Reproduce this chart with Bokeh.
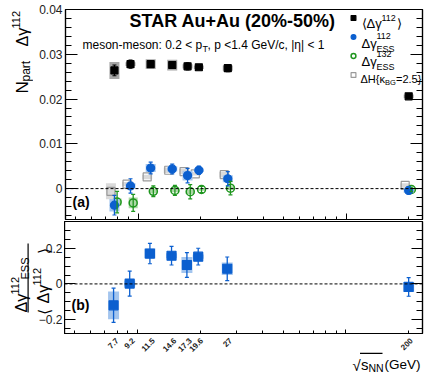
import math
from bokeh.plotting import figure
from bokeh.layouts import column, row
from bokeh.models import (Range1d, FixedTicker, LinearAxis, Span, Whisker, TeeHead,
                          ColumnDataSource, Label, Legend, LegendItem, BoxAnnotation)
from bokeh.embed import file_html
from bokeh.resources import INLINE

# ---------------- data ----------------
energies = [7.7, 9.2, 11.5, 14.6, 17.3, 19.6, 27, 200]
energy_labels = ["7.7", "9.2", "11.5", "14.6", "17.3", "19.6", "27", "200"]

# N_part * <Δγ112>
incl = [0.0264, 0.0278, 0.0278, 0.0276, 0.0273, 0.0271, 0.0269, 0.0206]
incl_stat = [0.0012, 0.0009, 0.0006, 0.0006, 0.0008, 0.0005, 0.0008, 0.0003]
incl_sys = [0.0019, 0.0004, 0.0011, 0.0012, 0.0005, 0.0004, 0.0006, 0.0004]

# N_part * Δγ112_ESS
g112 = [-0.0037, 0.0006, 0.0046, 0.0044, 0.0029, 0.0041, 0.0022, -0.0004]
g112_stat = [0.0022, 0.0016, 0.0013, 0.0011, 0.0016, 0.0009, 0.0016, 0.0008]
g112_sys = [0.0014, 0.0006, 0.0009, 0.0006, 0.0011, 0.0004, 0.0008, 0.0005]

# N_part * Δγ132_ESS
g132 = [-0.0030, -0.0032, -0.0006, -0.0004, -0.0007, -0.0002, 0.0001, -0.0002]
g132_stat = [0.0024, 0.0019, 0.0012, 0.0011, 0.0016, 0.0007, 0.0015, 0.0005]
g132_sys = [0.0008, 0.0012, 0.0005, 0.0004, 0.0005, 0.0003, 0.0004, 0.0003]

# N_part * ΔH{κ_BG=2.5}
dH = [-0.0006, 0.0010, 0.0026, 0.0041, 0.0038, 0.0033, 0.0031, 0.0007]
dH_sys = [0.0018, 0.0005, 0.0005, 0.0006, 0.0006, 0.0004, 0.0006, 0.0005]

# Δγ112_ESS / <Δγ112>
ratio = [-0.12, 0.002, 0.17, 0.158, 0.106, 0.153, 0.085, -0.017]
ratio_stat = [0.096, 0.070, 0.057, 0.052, 0.069, 0.047, 0.066, 0.052]
ratio_sys = [0.078, 0.017, 0.028, 0.014, 0.045, 0.012, 0.035, 0.028]

top_yticks = [0, 0.01, 0.02, 0.03, 0.04]
top_ylabels = ["0", "0.01", "0.02", "0.03", "0.04"]
bot_yticks = [-0.2, 0, 0.2]
bot_ylabels = ["\u22120.2", "0", "0.2"]

# ---------------- style ----------------
FONT = "Liberation Sans"
BLACK = "#000000"; BLACK_BOX = "#a6a6a6"
BLUE = "#0b5fcf"; BLUE_BOX = "#a3c5ee"
GREEN = "#1e961e"; GREEN_BOX = "#acd9a6"
GRAY = "#9a9a9a"; GRAY_BOX = "#dadada"
SHIFT_GRAY = 0.962
SHIFT_GREEN = 1.03
MINOR_X = [5, 6, 7, 8, 9, 20, 30, 40, 50, 60, 70, 80, 90, 200]
R = math.pi / 2

xr = Range1d(4.48, 233.0)
yr_top = Range1d(-0.0069, 0.04)
yr_bot = Range1d(-0.278, 0.35)


def blank(p):
    p.xgrid.visible = False
    p.ygrid.visible = False
    p.outline_line_color = None
    p.background_fill_color = "white"
    p.border_fill_color = "white"


def base_style(p):
    p.xgrid.visible = False
    p.ygrid.visible = False
    p.outline_line_color = "black"
    p.outline_line_width = 1.2
    p.background_fill_color = "white"
    p.border_fill_color = "white"


def hide_labels(ax):
    ax.major_label_text_font_size = "1px"
    ax.major_label_text_alpha = 0
    ax.major_label_standoff = 0


def y_axis(ax, ticks, minors, labels, show, major=12, minor=6):
    ax.ticker = FixedTicker(ticks=ticks, minor_ticks=minors)
    ax.major_tick_in = major
    ax.major_tick_out = 0
    ax.minor_tick_in = minor
    ax.minor_tick_out = 0
    ax.axis_line_color = "black"
    ax.axis_line_width = 1.2
    if show:
        ax.major_label_overrides = dict(zip(ticks, labels))
        ax.major_label_text_font = FONT
        ax.major_label_text_font_size = "12px"
        ax.major_label_text_color = "#222222"
        ax.major_label_standoff = 3
    else:
        hide_labels(ax)


def x_tick_axis(ax, major, minor):
    ax.ticker = FixedTicker(ticks=[10, 100], minor_ticks=MINOR_X)
    ax.major_tick_in = major
    ax.major_tick_out = 0
    ax.minor_tick_in = minor
    ax.minor_tick_out = 0
    ax.axis_line_color = "black"
    ax.axis_line_width = 1.2
    hide_labels(ax)


def txt(p, x0, y0, px, py, text, size, bold=False, angle=0.0, align="left",
        baseline="alphabetic", color="black"):
    """Place text at page position (px, py); (x0, y0) = page position of p's frame bottom-left."""
    p.add_layout(Label(x=px - x0, y=y0 - py, x_units="screen", y_units="screen",
                       text=text, text_font=FONT, text_font_size=f"{size}px",
                       text_font_style="bold" if bold else "normal",
                       text_color=color, angle=angle, text_align=align,
                       text_baseline=baseline))


def series(p, xs, ys, stat, sys, color, box_color, marker, size, fill, lw=1.2, box_w=10):
    src = ColumnDataSource(dict(
        x=xs, y=ys, h=[2 * s for s in sys],
        lo=[y - e for y, e in zip(ys, stat)] if stat else ys,
        up=[y + e for y, e in zip(ys, stat)] if stat else ys))
    p.rect(x="x", y="y", width=box_w, width_units="screen", height="h", source=src,
           fill_color=box_color, line_color=None)
    if stat:
        p.add_layout(Whisker(source=src, base="x", upper="up", lower="lo", dimension="height",
                             line_color=color, line_width=1.3, level="glyph",
                             upper_head=TeeHead(size=4, line_color=color, line_width=1.2),
                             lower_head=TeeHead(size=4, line_color=color, line_width=1.2)))
    return p.scatter(x="x", y="y", source=src, marker=marker, size=size,
                     fill_color=fill, line_color=color, line_width=lw)


# ================= top row (page y 0..221, frames 9..219) =================
LTW = 33
lt = figure(width=LTW, height=221, x_range=Range1d(0, 1), y_range=Range1d(0, 1),
            x_axis_location=None, y_axis_location=None, output_backend="svg",
            toolbar_location=None, min_border_left=0, min_border_right=0,
            min_border_top=9, min_border_bottom=2)
blank(lt)
LTY = 219
txt(lt, 0, LTY, 22, 93, "N", 17, angle=R)
txt(lt, 0, LTY, 25, 81, "part", 12, angle=R)
txt(lt, 0, LTY, 21.5, 46, "\u0394\u03b3", 16, angle=R)
txt(lt, 0, LTY, 15.5, 28, "112", 11, angle=R)

top = figure(width=429 - LTW, height=221, x_axis_type="log", x_range=xr, y_range=yr_top,
             output_backend="svg", toolbar_location=None,
             min_border_left=65 - LTW, min_border_right=7, min_border_top=9, min_border_bottom=2)
base_style(top)
top_minor = [round(-0.006 + 0.002 * i, 4) for i in range(24) if i % 5 != 3]
y_axis(top.yaxis[0], top_yticks, top_minor, top_ylabels, True)
ra = LinearAxis()
top.add_layout(ra, "right")
y_axis(ra, top_yticks, top_minor, top_ylabels, False)
x_tick_axis(top.xaxis[0], 6, 3)
top.add_layout(Span(location=0, dimension="width", line_color="black", line_width=1, line_dash="3 2"))

e_gray = [e * SHIFT_GRAY for e in energies]
e_green = [e * SHIFT_GREEN for e in energies]

r_incl = series(top, energies, incl, incl_stat, incl_sys, BLACK, BLACK_BOX, "square", 7, BLACK, box_w=10)
r_dh = series(top, e_gray, dH, None, dH_sys, GRAY, GRAY_BOX, "square", 8, None, lw=1.2)
r_132 = series(top, e_green, g132, g132_stat, g132_sys, GREEN, GREEN_BOX, "circle", 8, None, lw=1.5, box_w=9)
r_112 = series(top, energies, g112, g112_stat, g112_sys, BLUE, BLUE_BOX, "circle", 8, BLUE)

legend = Legend(items=[LegendItem(label="\u00a0", renderers=[r]) for r in (r_incl, r_112, r_132, r_dh)],
                location=(282, 135), orientation="vertical")
legend.glyph_width = 12
legend.glyph_height = 19
legend.label_height = 19
legend.label_width = 1
legend.label_standoff = 0
legend.label_text_font_size = "4px"
legend.spacing = 0
legend.padding = 0
legend.margin = 0
legend.border_line_color = None
legend.background_fill_alpha = 0
top.add_layout(legend)

TX, TY = 65, 219
txt(top, TX, TY, 129, 20, "STAR Au+Au (20%-50%)", 18, bold=True, baseline="middle")
txt(top, TX, TY, 82, 44, "meson-meson: 0.2 < p", 12)
txt(top, TX, TY, 202, 48, "T", 9)
txt(top, TX, TY, 207, 44, ", p <1.4 GeV/c, |\u03b7| < 1", 12)
txt(top, TX, TY, 72, 201, "(a)", 14, bold=True, baseline="middle")

# legend texts
txt(top, TX, TY, 361, 23, "\u27e8", 13)
txt(top, TX, TY, 366, 23, "\u0394\u03b3", 13)
txt(top, TX, TY, 381, 17, "112", 9)
txt(top, TX, TY, 396, 23, "\u27e9", 13)
txt(top, TX, TY, 361, 42.5, "\u0394\u03b3", 13)
txt(top, TX, TY, 376, 35, "112", 9)
txt(top, TX, TY, 376, 48, "ESS", 9)
txt(top, TX, TY, 361, 61, "\u0394\u03b3", 13)
txt(top, TX, TY, 376, 53.5, "132", 9)
txt(top, TX, TY, 376, 66.5, "ESS", 9)
txt(top, TX, TY, 360, 78.5, "\u0394H{\u03ba", 11)
txt(top, TX, TY, 384.5, 82, "BG", 7.5)
txt(top, TX, TY, 395.5, 78.5, "=2.5}", 11)

# ================= bottom row (page y 221..335, frames 221..333) =================
BOT_BB = 2
BOT_H = 112 + BOT_BB
LBW = 64
lb = figure(width=LBW, height=BOT_H, x_range=Range1d(0, 1), y_range=yr_bot,
            x_axis_location=None, y_axis_location=None, output_backend="svg",
            toolbar_location=None, min_border_left=0, min_border_right=0,
            min_border_top=0, min_border_bottom=BOT_BB)
blank(lb)
for t, s in zip(bot_yticks, bot_ylabels):
    lb.add_layout(Label(x=62, x_units="screen", y=t, y_units="data", text=s,
                        text_font=FONT, text_font_size="12px", text_color="#222222",
                        text_align="right", text_baseline="middle"))
LBY = 333
txt(lb, 0, LBY, 21, 312, "\u0394\u03b3", 16, angle=R)
txt(lb, 0, LBY, 14, 294, "112", 11, angle=R)
txt(lb, 0, LBY, 24, 279, "ESS", 11, angle=R)
lb.add_layout(BoxAnnotation(left=27, right=28.2, top=LBY - 243, bottom=LBY - 312,
                            left_units="screen", right_units="screen", top_units="screen",
                            bottom_units="screen", fill_color="black", fill_alpha=1,
                            line_color=None))
txt(lb, 0, LBY, 44, 314, "\u27e8", 16, angle=R)
txt(lb, 0, LBY, 43, 303, "\u0394\u03b3", 16, angle=R)
txt(lb, 0, LBY, 36, 285, "112", 11, angle=R)
txt(lb, 0, LBY, 44, 253, "\u27e9", 16, angle=R)

bot = figure(width=429 - LBW, height=BOT_H, x_axis_type="log", x_range=xr, y_range=yr_bot,
             output_backend="svg", toolbar_location=None,
             min_border_left=0, min_border_right=7, min_border_top=0, min_border_bottom=BOT_BB)
base_style(bot)
bot_minor = [-0.25, -0.15, -0.1, -0.05, 0.05, 0.1, 0.15, 0.25, 0.3]
y_axis(bot.yaxis[0], bot_yticks, bot_minor, bot_ylabels, False, major=11, minor=6)
rb = LinearAxis()
bot.add_layout(rb, "right")
y_axis(rb, bot_yticks, bot_minor, bot_ylabels, False, major=11, minor=6)
x_tick_axis(bot.xaxis[0], 4, 3)

bot.add_layout(Span(location=0, dimension="width", line_color="black", line_width=1, line_dash="3 2"))
series(bot, energies, ratio, ratio_stat, ratio_sys, BLUE, BLUE_BOX, "square", 9, BLUE, box_w=11)
txt(bot, 65, 333, 72, 304, "(b)", 14, bold=True, baseline="middle")

# ============ strip under the bottom panel: energy labels + x title (page y 335..373) ============
XT_H = 373 - 221 - BOT_H
xt = figure(width=429, height=XT_H, x_axis_type="log", x_range=xr, y_range=Range1d(0, 1),
            x_axis_location=None, y_axis_location=None, output_backend="svg",
            toolbar_location=None, min_border_left=65, min_border_right=7,
            min_border_top=0, min_border_bottom=0)
blank(xt)
XB = 373
for e, s in zip(energies, energy_labels):
    xt.add_layout(Label(x=e, x_units="data", x_offset=3, y=XB - 339, y_units="screen",
                        text=s, text_font=FONT, text_font_size="8px", text_font_style="bold",
                        text_color="#222222", angle=math.pi / 4, text_align="right",
                        text_baseline="middle"))
txt(xt, 65, XB, 352, 365, "\u221a", 15)
txt(xt, 65, XB, 360.5, 364, "s", 15)
txt(xt, 65, XB, 368, 367.5, "NN", 10.5)
txt(xt, 65, XB, 384, 364, "(GeV)", 13.5)
xt.add_layout(BoxAnnotation(left=359.5 - 65, right=382 - 65, top=XB - 352.3, bottom=XB - 353.4,
                            left_units="screen", right_units="screen", top_units="screen",
                            bottom_units="screen", fill_color="black", fill_alpha=1,
                            line_color=None))

layout = column(row(lt, top), row(lb, bot), xt)
open("out.html", "w").write(file_html(layout, INLINE))
